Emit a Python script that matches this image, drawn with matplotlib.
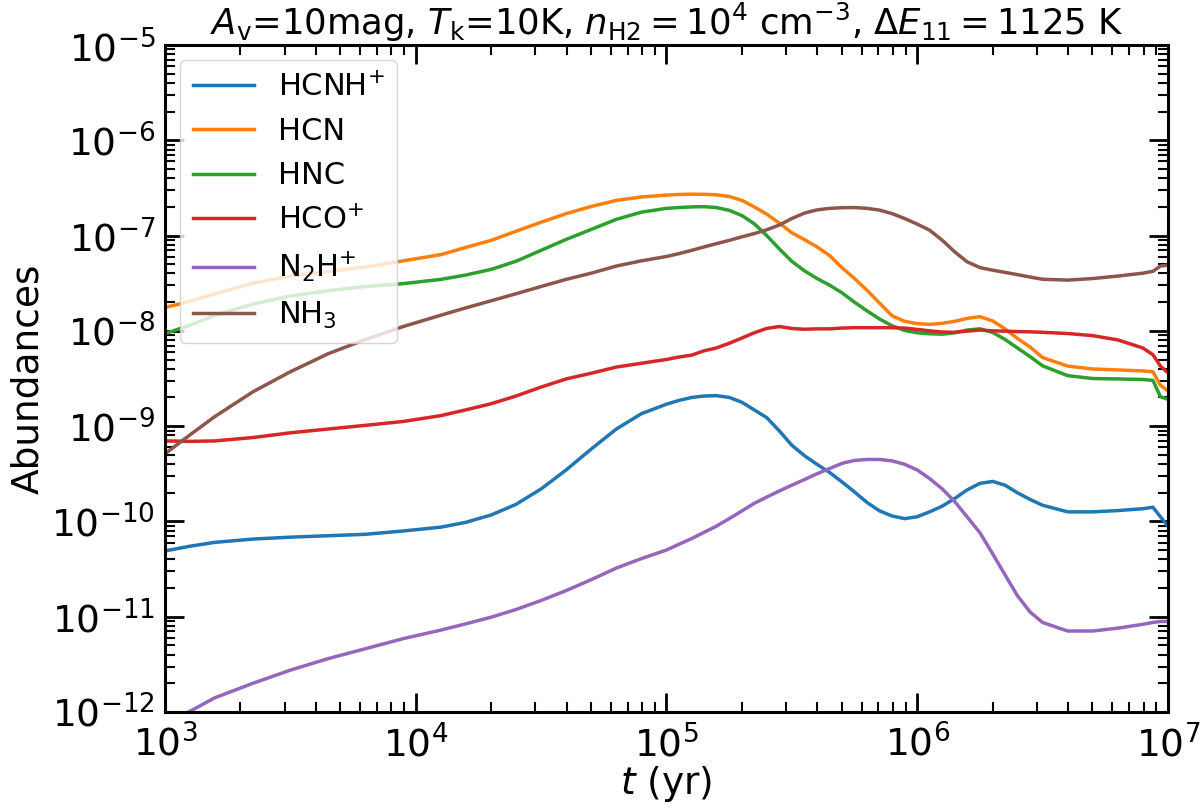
import matplotlib
matplotlib.use("Agg")
import matplotlib.pyplot as plt

# time grid (yr)
t = [1.0e3, 1.26e3, 1.58e3, 2.24e3, 3.16e3, 4.47e3, 6.31e3, 8.91e3, 1.26e4,
     1.58e4, 2.0e4, 2.51e4, 3.16e4, 3.98e4, 5.01e4, 6.31e4, 7.94e4, 1.0e5,
     1.12e5, 1.26e5, 1.41e5, 1.58e5, 1.78e5, 2.0e5, 2.24e5, 2.51e5, 2.82e5, 3.16e5,
     3.55e5, 3.98e5, 4.47e5, 5.01e5, 5.62e5, 6.31e5, 7.08e5, 7.94e5, 8.91e5, 1.0e6,
     1.12e6, 1.26e6, 1.41e6, 1.58e6, 1.78e6, 2.0e6, 2.24e6, 2.51e6, 2.82e6, 3.16e6,
     3.98e6, 5.01e6, 6.31e6, 7.94e6, 8.71e6, 9.33e6, 1.0e7]

hcnh = [4.90e-11, 5.50e-11, 6.03e-11, 6.53e-11, 6.84e-11, 7.08e-11, 7.33e-11, 7.94e-11, 8.71e-11,
        9.77e-11, 1.17e-10, 1.51e-10, 2.19e-10, 3.47e-10, 5.75e-10, 9.33e-10, 1.35e-9, 1.70e-9,
        1.86e-9, 2.00e-9, 2.07e-9, 2.09e-9, 2.00e-9, 1.78e-9, 1.48e-9, 1.23e-9, 8.91e-10, 6.31e-10,
        4.90e-10, 3.98e-10, 3.27e-10, 2.60e-10, 2.04e-10, 1.58e-10, 1.29e-10, 1.14e-10, 1.07e-10, 1.12e-10,
        1.26e-10, 1.45e-10, 1.74e-10, 2.14e-10, 2.51e-10, 2.63e-10, 2.40e-10, 2.00e-10, 1.70e-10, 1.48e-10,
        1.26e-10, 1.26e-10, 1.30e-10, 1.36e-10, 1.41e-10, 1.12e-10, 8.91e-11]

hcn = [1.76e-8, 2.04e-8, 2.45e-8, 3.16e-8, 3.76e-8, 4.19e-8, 4.68e-8, 5.43e-8, 6.31e-8,
       7.50e-8, 8.91e-8, 1.11e-7, 1.38e-7, 1.70e-7, 2.02e-7, 2.34e-7, 2.54e-7, 2.66e-7,
       2.70e-7, 2.72e-7, 2.71e-7, 2.68e-7, 2.57e-7, 2.34e-7, 2.00e-7, 1.68e-7, 1.35e-7, 1.07e-7,
       9.06e-8, 7.62e-8, 6.17e-8, 4.61e-8, 3.55e-8, 2.66e-8, 1.95e-8, 1.44e-8, 1.26e-8, 1.19e-8,
       1.17e-8, 1.20e-8, 1.26e-8, 1.35e-8, 1.41e-8, 1.27e-8, 1.05e-8, 8.32e-9, 6.76e-9, 5.25e-9,
       4.27e-9, 3.98e-9, 3.89e-9, 3.80e-9, 3.72e-9, 2.69e-9, 2.34e-9]

hnc = [9.33e-9, 1.15e-8, 1.45e-8, 1.91e-8, 2.32e-8, 2.64e-8, 2.92e-8, 3.13e-8, 3.47e-8,
       3.85e-8, 4.42e-8, 5.37e-8, 7.00e-8, 9.12e-8, 1.16e-7, 1.48e-7, 1.76e-7, 1.93e-7,
       1.97e-7, 2.00e-7, 2.01e-7, 1.97e-7, 1.84e-7, 1.62e-7, 1.33e-7, 1.00e-7, 7.24e-8, 5.37e-8,
       4.27e-8, 3.55e-8, 3.02e-8, 2.51e-8, 2.00e-8, 1.62e-8, 1.33e-8, 1.13e-8, 1.01e-8, 9.55e-9,
       9.33e-9, 9.23e-9, 9.55e-9, 1.02e-8, 1.05e-8, 9.62e-9, 8.13e-9, 6.61e-9, 5.37e-9, 4.30e-9,
       3.39e-9, 3.16e-9, 3.13e-9, 3.09e-9, 3.02e-9, 2.04e-9, 1.91e-9]

hco = [7.00e-10, 6.92e-10, 7.00e-10, 7.59e-10, 8.51e-10, 9.33e-10, 1.02e-9, 1.12e-9, 1.29e-9,
       1.48e-9, 1.72e-9, 2.07e-9, 2.57e-9, 3.13e-9, 3.59e-9, 4.17e-9, 4.57e-9, 5.01e-9,
       5.31e-9, 5.56e-9, 6.17e-9, 6.61e-9, 7.41e-9, 8.41e-9, 9.55e-9, 1.06e-8, 1.11e-8, 1.06e-8,
       1.04e-8, 1.05e-8, 1.05e-8, 1.07e-8, 1.08e-8, 1.08e-8, 1.08e-8, 1.08e-8, 1.07e-8, 1.035e-8,
       1.00e-8, 9.72e-9, 9.66e-9, 9.93e-9, 1.02e-8, 1.00e-8, 9.93e-9, 9.82e-9, 9.77e-9, 9.66e-9,
       9.38e-9, 8.91e-9, 8.04e-9, 6.61e-9, 5.62e-9, 4.27e-9, 3.63e-9]

n2h = [7.59e-13, 1.02e-12, 1.41e-12, 2.00e-12, 2.75e-12, 3.63e-12, 4.62e-12, 5.89e-12, 7.24e-12,
       8.41e-12, 9.89e-12, 1.19e-11, 1.48e-11, 1.88e-11, 2.45e-11, 3.24e-11, 4.07e-11, 5.01e-11,
       5.75e-11, 6.61e-11, 7.67e-11, 8.91e-11, 1.07e-10, 1.29e-10, 1.55e-10, 1.80e-10, 2.09e-10, 2.40e-10,
       2.75e-10, 3.16e-10, 3.59e-10, 4.07e-10, 4.37e-10, 4.47e-10, 4.47e-10, 4.32e-10, 3.98e-10, 3.47e-10,
       2.82e-10, 2.19e-10, 1.62e-10, 1.12e-10, 7.59e-11, 4.57e-11, 2.75e-11, 1.66e-11, 1.12e-11, 8.71e-12,
       7.08e-12, 7.08e-12, 7.59e-12, 8.32e-12, 8.71e-12, 8.91e-12, 8.91e-12]

nh3 = [5.13e-10, 8.13e-10, 1.26e-9, 2.29e-9, 3.72e-9, 5.75e-9, 8.13e-9, 1.11e-8, 1.46e-8,
       1.74e-8, 2.07e-8, 2.45e-8, 2.92e-8, 3.47e-8, 4.03e-8, 4.79e-8, 5.43e-8, 6.03e-8,
       6.46e-8, 7.00e-8, 7.59e-8, 8.22e-8, 8.91e-8, 9.70e-8, 1.05e-7, 1.15e-7, 1.29e-7, 1.51e-7,
       1.72e-7, 1.86e-7, 1.93e-7, 1.96e-7, 1.97e-7, 1.93e-7, 1.85e-7, 1.70e-7, 1.51e-7, 1.32e-7,
       1.14e-7, 8.91e-8, 6.76e-8, 5.31e-8, 4.61e-8, 4.33e-8, 4.11e-8, 3.89e-8, 3.67e-8, 3.48e-8,
       3.41e-8, 3.54e-8, 3.76e-8, 4.03e-8, 4.22e-8, 4.79e-8, 4.90e-8]

labels = ["HCNH$^{+}$", "HCN", "HNC", "HCO$^{+}$", "N$_2$H$^{+}$", "NH$_3$"]
series = [hcnh, hcn, hnc, hco, n2h, nh3]
colors = ["C0", "C1", "C2", "C3", "C4", "C5"]

fig = plt.figure(figsize=(12, 8.08), dpi=100)
ax = fig.add_axes([0.1375, 0.1188, 0.8358, 0.8255])

for y, lab, c in zip(series, labels, colors):
    ax.plot(t, y, color=c, lw=2.5, label=lab)

ax.set_xscale("log")
ax.set_yscale("log")
ax.set_xlim(1e3, 1e7)
ax.set_ylim(1e-12, 1e-5)
ax.set_yticks([10.0**k for k in range(-12, -4)])

ax.tick_params(which="both", direction="in", top=True, right=True)
ax.tick_params(which="major", length=14, width=2, labelsize=27)
ax.tick_params(axis="y", which="major", pad=7)
ax.tick_params(axis="x", which="major", pad=9)
ax.tick_params(which="minor", length=7, width=1.5)
for s in ax.spines.values():
    s.set_linewidth(2.2)

ax.set_xlabel("$t$ (yr)", fontsize=27, labelpad=0)
ax.set_ylabel("Abundances", fontsize=27, labelpad=4)
ax.set_title(r"$A_{\rm v}$=10mag, $T_{\rm k}$=10K, $n_{\rm H2}=10^4$ cm$^{-3}$, $\Delta E_{11}=1125$ K",
             fontsize=25.5, pad=7)

ax.legend(loc="upper left", fontsize=22)

fig.savefig("out.png", dpi=100)
